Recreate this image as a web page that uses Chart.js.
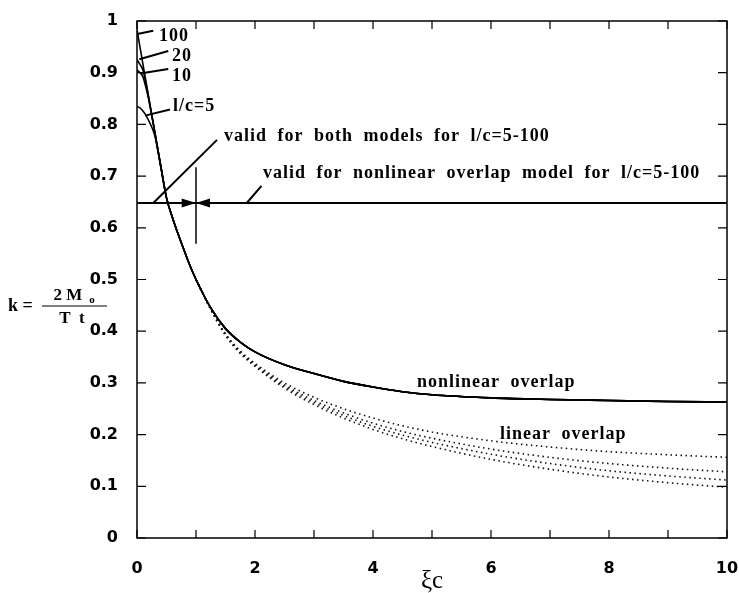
<!DOCTYPE html>
<html>
<head>
<meta charset="utf-8">
<script src="https://cdn.jsdelivr.net/npm/chart.js@4.4.0/dist/chart.umd.min.js"></script>
<style>
  html, body { margin: 0; padding: 0; background: #fff; }
  #wrap { width: 739px; height: 593px; }
</style>
</head>
<body>
<div id="wrap"><canvas id="kChart" width="739" height="593"></canvas></div>
<script>
// nonlinear overlap: separate start for each l/c, then one common curve
const headX = [0, 0.05, 0.1, 0.15, 0.2, 0.3];
const head100 = [0.983, 0.950, 0.917, 0.884, 0.851, 0.786];
const head20 = [0.925, 0.916, 0.905, 0.880, 0.851, 0.786];
const head10 = [0.905, 0.900, 0.892, 0.872, 0.847, 0.786];
const head5 = [0.834, 0.832, 0.826, 0.818, 0.807, 0.779];
const tailX = [0.4, 0.5, 0.6, 0.7, 0.8, 0.9, 1.0, 1.25, 1.5, 1.75, 2, 2.5, 3, 3.5, 4, 4.5, 5, 6, 7, 8, 9, 10];
const tailK = [0.721, 0.658, 0.620, 0.587, 0.556, 0.526, 0.500, 0.445, 0.405, 0.379, 0.360, 0.335, 0.318, 0.303, 0.292, 0.283, 0.277, 0.271, 0.268, 0.266, 0.264, 0.263];

// linear overlap, one curve per l/c
const linX = [1.0, 1.25, 1.5, 1.75, 2, 2.5, 3, 3.5, 4, 4.5, 5, 6, 7, 8, 9, 10];
const lin5 = [0.500, 0.443, 0.395, 0.362, 0.338, 0.300, 0.272, 0.250, 0.232, 0.217, 0.205, 0.188, 0.176, 0.167, 0.161, 0.156];
const lin10 = [0.500, 0.443, 0.394, 0.360, 0.336, 0.296, 0.266, 0.242, 0.222, 0.206, 0.193, 0.172, 0.156, 0.144, 0.135, 0.128];
const lin20 = [0.500, 0.442, 0.393, 0.358, 0.334, 0.293, 0.262, 0.237, 0.216, 0.199, 0.185, 0.162, 0.144, 0.130, 0.120, 0.112];
const lin100 = [0.500, 0.442, 0.392, 0.357, 0.332, 0.290, 0.258, 0.232, 0.210, 0.192, 0.177, 0.152, 0.133, 0.118, 0.107, 0.098];

// validity limit and the marker at xi*c = 1
const kLimit = 0.648;
const limitX = [0, 10];
const markerX = 1;
const markerK = [0.569, 0.717];

// axis ticks
const xTicks = [0, 2, 4, 6, 8, 10];
const yTicks = [0, 0.1, 0.2, 0.3, 0.4, 0.5, 0.6, 0.7, 0.8, 0.9, 1];

// labels, placed in data units: [text, xi*c, k]
const notes = [
  ['100', 0.373, 0.962],
  ['20', 0.593, 0.923],
  ['10', 0.593, 0.884],
  ['l/c=5', 0.61, 0.826],
  ['valid for both models for l/c=5-100', 1.475, 0.768],
  ['valid for nonlinear overlap model for l/c=5-100', 2.136, 0.696],
  ['nonlinear overlap', 4.746, 0.292],
  ['linear overlap', 6.153, 0.1915]
];
// leader lines: [x0, k0, x1, k1]
const leaders = [
  [0.005, 0.975, 0.275, 0.981],
  [0.039, 0.926, 0.53, 0.942],
  [0.08, 0.899, 0.53, 0.907],
  [0.136, 0.817, 0.56, 0.829],
  [0.276, kLimit, 1.356, 0.77],
  [1.86, kLimit, 2.11, 0.681]
];

const pts = (xs, ys) => xs.map((x, i) => ({ x: x, y: ys[i] }));

function solid(data) {
  return {
    data: data, borderColor: '#000', borderWidth: 1.6,
    pointRadius: 0, fill: false, cubicInterpolationMode: 'monotone'
  };
}
function dotted(data) {
  return {
    data: data, borderColor: '#111', borderWidth: 1.6, borderDash: [1.5, 3.5],
    pointRadius: 0, fill: false, cubicInterpolationMode: 'monotone'
  };
}

const datasets = [
  solid(pts(headX.concat(tailX), head100.concat(tailK))),
  solid(pts(headX.concat(tailX), head20.concat(tailK))),
  solid(pts(headX.concat(tailX), head10.concat(tailK))),
  solid(pts(headX.concat(tailX), head5.concat(tailK))),
  dotted(pts(linX, lin5)),
  dotted(pts(linX, lin10)),
  dotted(pts(linX, lin20)),
  dotted(pts(linX, lin100)),
  { data: pts(limitX, [kLimit, kLimit]), borderColor: '#000', borderWidth: 2.2, pointRadius: 0 },
  { data: pts([markerX, markerX], markerK), borderColor: '#000', borderWidth: 1.5, pointRadius: 0 }
];

// frame, inward ticks, arrowheads and text
const decorations = {
  id: 'decorations',
  afterDatasetsDraw(chart) {
    const { ctx, chartArea: a, scales: { x, y } } = chart;
    const px = v => x.getPixelForValue(v);
    const py = v => y.getPixelForValue(v);
    ctx.save();

    ctx.strokeStyle = '#000';
    ctx.lineWidth = 1.5;
    ctx.strokeRect(a.left, a.top, a.right - a.left, a.bottom - a.top);

    ctx.lineWidth = 1.2;
    ctx.beginPath();
    x.ticks.forEach(t => {
      const p = px(t.value);
      ctx.moveTo(p, a.bottom); ctx.lineTo(p, a.bottom - 8);
      ctx.moveTo(p, a.top); ctx.lineTo(p, a.top + 8);
    });
    y.ticks.forEach(t => {
      const p = py(t.value);
      ctx.moveTo(a.left, p); ctx.lineTo(a.left + 9, p);
      ctx.moveTo(a.right, p); ctx.lineTo(a.right - 9, p);
    });
    ctx.stroke();

    // leader lines
    ctx.lineWidth = 2;
    ctx.beginPath();
    leaders.forEach(l => {
      ctx.moveTo(px(l[0]), py(l[1]));
      ctx.lineTo(px(l[2]), py(l[3]));
    });
    ctx.stroke();

    // arrowheads pointing at the marker
    const mx = px(markerX), my = py(kLimit);
    ctx.fillStyle = '#000';
    [px(0.757), px(1.237)].forEach(bx => {
      ctx.beginPath();
      ctx.moveTo(bx, my - 4.6);
      ctx.lineTo(mx, my);
      ctx.lineTo(bx, my + 4.6);
      ctx.closePath();
      ctx.fill();
    });

    // labels
    ctx.font = 'bold 18px "Liberation Serif"';
    ctx.letterSpacing = '1px';
    ctx.wordSpacing = '5px';
    ctx.textBaseline = 'alphabetic';
    ctx.textAlign = 'left';
    notes.forEach(n => ctx.fillText(n[0], px(n[1]), py(n[2])));

    // axis titles
    ctx.letterSpacing = '0px';
    ctx.wordSpacing = '0px';
    ctx.font = '25px "Liberation Serif"';
    ctx.textAlign = 'center';
    ctx.fillText('ξc', (a.left + a.right) / 2, 588);

    ctx.textAlign = 'left';
    ctx.font = 'bold 18px "Liberation Serif"';
    ctx.fillText('k =', 8, 311);
    ctx.font = 'bold 17px "Liberation Serif"';
    ctx.textAlign = 'center';
    ctx.fillText('2 M', 68, 300);
    ctx.font = 'bold 11px "Liberation Serif"';
    ctx.fillText('o', 92, 303);
    ctx.font = 'bold 17px "Liberation Serif"';
    ctx.fillText('T  t', 72, 323);
    ctx.lineWidth = 1.2;
    ctx.beginPath();
    ctx.moveTo(42, 306);
    ctx.lineTo(107, 306);
    ctx.stroke();

    ctx.restore();
  }
};

const tickFont = { family: '"DejaVu Sans"', size: 16, weight: 'bold' };

new Chart(document.getElementById('kChart'), {
  type: 'line',
  data: { datasets: datasets },
  options: {
    responsive: false,
    animation: false,
    layout: { padding: { top: 21, right: 12, left: 0, bottom: 0 } },
    plugins: { legend: { display: false }, tooltip: { enabled: false } },
    scales: {
      x: {
        type: 'linear', min: 0, max: 10,
        afterFit: s => { s.height = 55; s.paddingLeft = 0; s.paddingRight = 0; },
        afterBuildTicks: s => { s.ticks = [0, 1, 2, 3, 4, 5, 6, 7, 8, 9, 10].map(v => ({ value: v })); },
        ticks: {
          color: '#000', font: tickFont, padding: 13, maxRotation: 0, autoSkip: false,
          callback: v => xTicks.includes(v) ? String(v) : ''
        },
        grid: { display: false },
        border: { display: false }
      },
      y: {
        type: 'linear', min: 0, max: 1,
        afterFit: s => { s.width = 137; },
        afterBuildTicks: s => { s.ticks = yTicks.map(v => ({ value: v })); },
        ticks: {
          color: '#000', font: tickFont, padding: 11,
          callback: v => String(Math.round(v * 10) / 10)
        },
        grid: { display: false },
        border: { display: false }
      }
    }
  },
  plugins: [decorations]
});
</script>
</body>
</html>
